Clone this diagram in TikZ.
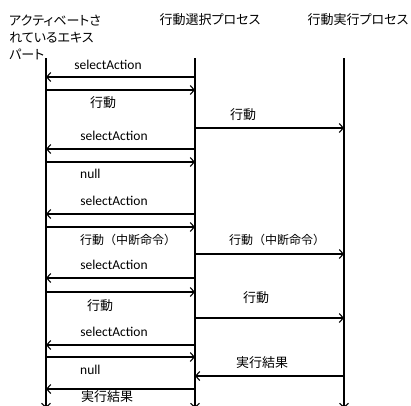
\documentclass[tikz,border=0pt]{standalone}
\usepackage{fontspec}
\setmainfont{Carlito}
\newfontfamily\jp[RawFeature=+palt]{Noto Sans CJK JP}
\newfontfamily\jpw{Noto Sans CJK JP}
\usetikzlibrary{arrows.meta}
\tikzset{
  life/.style={line width=1.3pt, -{Straight Barb[length=4pt,width=9pt,line width=1.1pt]}},
  msg/.style={line width=1.2pt, -{Straight Barb[length=4pt,width=9pt,line width=1.1pt]}},
  lat/.style={font=\fontsize{13.5}{15}\selectfont, inner sep=0pt},
  jpl/.style={font=\jp\fontsize{13}{17}\selectfont, inner sep=0pt},
  jpwide/.style={font=\jpw\fontsize{12}{15}\selectfont, inner sep=0pt},
}
\begin{document}
\begin{tikzpicture}[x=1pt,y=-1pt]
\useasboundingbox (0,0) rectangle (411,405);
\clip (0,0) rectangle (411,405);
% headers
\node[jpl, anchor=west, align=left] (hA) at (9,37) {アクティベートさ\\れているエキス\\パート};
\node[jpl] (hB) at (210,20) {行動選択プロセス};
\node[jpl] (hC) at (358,20) {行動実行プロセス};
% lifeline coordinates
\coordinate (Lt) at (46,58);  \coordinate (Lb) at (46,408);
\coordinate (Mt) at (195,58); \coordinate (Mb) at (195,408);
\coordinate (Rt) at (344,58); \coordinate (Rb) at (344,408);
\draw[life] (Lt) -- (Lb);
\draw[life] (Mt) -- (Mb);
\draw[life] (Rt) -- (Rb);
% message endpoints
\foreach \n/\y in {1/77,2/90,3/128,4/149,5/162,6/214,7/227,8/254,9/278,10/292,11/318,12/345,13/357,14/376,15/389}{
  \coordinate (L\n) at (46,\y);
  \coordinate (M\n) at (195,\y);
  \coordinate (R\n) at (344,\y);
}
\draw[msg] (M1) -- (L1);
\draw[msg] (L2) -- (M2);
\draw[msg] (M3) -- (R3);
\draw[msg] (M4) -- (L4);
\draw[msg] (L5) -- (M5);
\draw[msg] (M6) -- (L6);
\draw[msg] (L7) -- (M7);
\draw[msg] (M8) -- (R8);
\draw[msg] (M9) -- (L9);
\draw[msg] (L10) -- (M10);
\draw[msg] (M11) -- (R11);
\draw[msg] (M12) -- (L12);
\draw[msg] (L13) -- (M13);
\draw[msg] (R14) -- (M14);
\draw[msg] (M15) -- (L15);
% labels
\node[lat] (t1) at (108,65) {selectAction};
\node[jpl] (t2) at (103,103) {行動};
\node[jpl] (t3) at (243,115) {行動};
\node[lat] (t4) at (114,136) {selectAction};
\node[lat, anchor=west] (t5) at (80,174) {null};
\node[lat] (t6) at (114,201) {selectAction};
\node[jpwide, anchor=west] (t7) at (80,240) {行動（中断命令）};
\node[jpwide] (t8) at (277,240) {行動（中断命令）};
\node[lat] (t9) at (114,265) {selectAction};
\node[jpl] (t10) at (100,306) {行動};
\node[jpl] (t11) at (256,298) {行動};
\node[lat] (t12) at (114,332) {selectAction};
\node[jpl] (t13) at (262,363) {実行結果};
\node[lat, anchor=west] (t14) at (80,370) {null};
\node[jpl] (t15) at (107,397) {実行結果};
\end{tikzpicture}
\end{document}
